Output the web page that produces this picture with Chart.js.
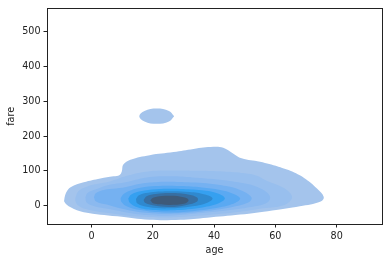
<!DOCTYPE html>
<html>
<head>
<meta charset="utf-8">
<script src="https://cdn.jsdelivr.net/npm/chart.js@4.4.0/dist/chart.umd.min.js"></script>
<style>
  html, body { margin: 0; padding: 0; background: #fff; }
  #kde { display: block; }
</style>
</head>
<body>
<canvas id="kde" width="389" height="262"></canvas>
<script>
const xTicks = [0, 20, 40, 60, 80];
const yTicks = [0, 100, 200, 300, 400, 500];

// density contours, outer to inner, as [age, fare]
const level1 = [[-8.8,22],[-8.2,38],[-6.8,53],[-2.5,67],[2.9,78],[7.2,84],[9.2,88],[9.9,98],[10.4,118],[12.7,132],[19,145],[26.8,154],[33.3,163],[39.8,169],[43,166],[46.2,150],[49,136],[55,126],[61,112],[65.5,98],[70,76],[73.5,50],[75.8,25],[74.8,12],[68,-2],[59,-14],[48.5,-26],[37.7,-35],[29,-41],[19,-41],[8.4,-31],[-2.5,-19],[-6.8,-5],[-8.8,10],[-8.8,22]];
const level2 = [[-5.2,24],[-4.2,42],[-1.4,55],[3,64],[6.2,70],[11.6,86],[19,99],[27,101],[35,100],[43,98],[50,93],[54,86],[57,72],[62,54],[64.8,36],[65.4,20],[63,2],[56,-8],[48.5,-18],[38,-27],[25,-34],[14,-31],[5,-21],[-1,-12],[-4,-2],[-5.2,12],[-5.2,24]];
const level3 = [[-2,24],[-1.2,37],[1.5,47],[5,58],[11.6,68],[19,82],[26,84],[33,81],[38.8,77],[45,71],[51,62],[55,50],[57.6,35],[58.3,20],[57,7],[52,-4],[44,-14],[35,-22],[25,-29],[15,-25],[7,-12],[1,-2],[-1.5,8],[-2,24]];
const level4 = [[0.8,24],[1.5,36],[4,45],[8,49],[12,55],[16,63],[22,68],[28,68],[34,66],[38.8,63],[44,56],[48.5,45],[51.3,32],[52.3,20],[51,8],[46,-4],[38,-15],[28,-23],[18,-21],[10,-9],[5,3],[1.5,12],[0.8,24]];
const level5 = [[9.5,21],[10.5,33],[13,44],[16,51],[21,56],[29,56],[36,52],[42,45],[46,35],[48.5,21],[47,8],[42,-5],[33,-16],[24,-20],[16,-13],[11.5,-2],[9.8,10],[9.5,21]];
const level6 = [[12,20],[13,32],[16,41],[21,47],[29,48],[36,44],[40.5,37],[43.5,22],[42,9],[37,-4],[28,-13],[20,-13],[15,-5],[12.5,8],[12,20]];
const level7 = [[14.5,19],[15.5,30],[18.5,37],[25,41],[32,39],[37,32],[39.5,21],[38,9],[33,-2],[25,-8],[18.5,-4],[15,6],[14.5,19]];
const level8 = [[17,16],[18,27],[21,33],[26,36],[31.5,32],[34.5,23],[34.5,12],[31,2],[25.5,-4],[20,1],[17.5,8],[17,16]];
const level9 = [[19.2,15],[20.3,23],[25.5,28],[30.5,23],[31.7,15],[30.5,6],[25.5,2],[20.3,6],[19.2,15]];
// small separate blob of high fares
const island = [[27,257],[25.3,272],[21.3,279],[17.3,272],[15.6,257],[17.3,242],[21.3,235],[25.3,242],[27,257]];

const levels = [level1, level2, level3, level4, level5, level6, level7, level8, level9];
const levelColors = ['#a4c4ec', '#98bfee', '#8bb9ef', '#75b1f1', '#5aa9f2', '#35a0f0', '#2f89cf', '#376fa3', '#3e5a79'];

const toPoints = arr => arr.map(p => ({ x: p[0], y: p[1] }));

const datasets = levels.map((lv, i) => ({
  data: toPoints(lv),
  backgroundColor: levelColors[i],
  borderColor: 'rgba(0,0,0,0)',
  borderWidth: 0,
  pointRadius: 0,
  showLine: true,
  fill: 'shape',
  tension: 0.4,
  order: levels.length - i
}));
datasets.push({
  data: toPoints(island),
  backgroundColor: levelColors[0],
  borderColor: 'rgba(0,0,0,0)',
  borderWidth: 0,
  pointRadius: 0,
  showLine: true,
  fill: 'shape',
  tension: 0.4,
  order: levels.length
});

const ink = '#222222';
const tickFont = { family: 'DejaVu Sans', size: 9.6 };

new Chart(document.getElementById('kde').getContext('2d'), {
  type: 'scatter',
  data: { datasets: datasets },
  options: {
    responsive: false,
    animation: false,
    devicePixelRatio: 1,
    layout: { padding: 0 },
    plugins: {
      legend: { display: false },
      tooltip: { enabled: false }
    },
    scales: {
      x: {
        type: 'linear',
        position: 'bottom',
        min: -14.5,
        max: 94.8,
        afterBuildTicks: s => { s.ticks = xTicks.map(v => ({ value: v })); },
        afterFit: s => { s.height = 38; },
        grid: { display: true, drawOnChartArea: false, drawTicks: true, tickLength: 3.5, color: ink },
        border: { display: true, color: ink, width: 1 },
        ticks: { color: ink, font: tickFont, padding: 3, maxRotation: 0 },
        title: { display: true, text: 'age', color: ink, font: tickFont, padding: { top: 0, bottom: 6 } }
      },
      y: {
        type: 'linear',
        position: 'left',
        min: -53,
        max: 566,
        afterBuildTicks: s => { s.ticks = yTicks.map(v => ({ value: v })); },
        afterFit: s => { s.width = 47; },
        grid: { display: true, drawOnChartArea: false, drawTicks: true, tickLength: 3.5, color: ink },
        border: { display: true, color: ink, width: 1 },
        ticks: { color: ink, font: tickFont, padding: 3 },
        title: { display: true, text: 'fare', color: ink, font: tickFont, padding: { top: 6, bottom: 0 } }
      },
      x2: {
        type: 'linear',
        position: 'top',
        min: -14.5,
        max: 94.8,
        afterFit: s => { s.height = 6; },
        grid: { display: false },
        border: { display: true, color: ink, width: 1 },
        ticks: { display: false }
      },
      y2: {
        type: 'linear',
        position: 'right',
        min: -53,
        max: 566,
        afterFit: s => { s.width = 7; },
        grid: { display: false },
        border: { display: true, color: ink, width: 1 },
        ticks: { display: false }
      }
    }
  }
});
</script>
</body>
</html>
